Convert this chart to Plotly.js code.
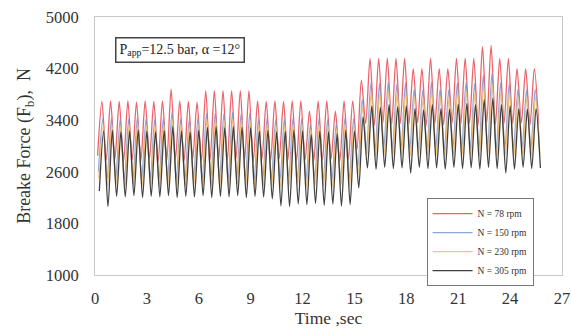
<!DOCTYPE html>
<html>
<head>
<meta charset="utf-8">
<script src="https://cdn.plot.ly/plotly-3.0.1.min.js"></script>
<style>html,body{margin:0;padding:0;background:#fff;}#chart{width:571px;height:330px;}</style>
</head>
<body>
<div id="chart"></div>
<script>
// Series labels
const seriesNames = ["N = 78 rpm", "N = 150 rpm", "N = 230 rpm", "N = 305 rpm"];
// Sampling: alternating trough / peak every 0.25 s, first sample time per series
const sampleStep = 0.25;
const startTimes = [0.15, 0.20, 0.22, 0.25];

const n78Troughs = [2850,2780,2800,2760,2790,2770,2800,2760,2780,2790,
  2770,2800,2760,2780,2790,2770,2800,2780,2760,2790,
  2770,2800,2780,2760,2790,2770,2780,2800,2760,2790,
  2950,3350,3320,3360,3330,3350,3340,3360,3320,3350,
  3330,3360,3340,3350,3320,3360,3330,3350,3340,3360,
  3330,3350];
const n78Peaks = [3690,3700,3690,3700,3680,3700,3690,3700,3880,3700,
  3690,3680,3860,3860,3860,3860,3860,3860,3700,3690,
  3700,3690,3700,3700,3540,3700,3700,3540,3700,3700,
  4020,4360,4360,4360,4360,4360,4200,4200,4360,4200,
  4200,4360,4360,4360,4540,4560,4360,4360,4200,4200,4200];

const n150Troughs = [2600,2480,2500,2470,2490,2480,2500,2470,2490,2480,
  2470,2500,2480,2490,2470,2480,2500,2490,2470,2480,
  2490,2470,2480,2500,2470,2490,2480,2470,2490,2480,
  2680,2960,2940,2970,2950,2960,2940,2970,2950,2960,
  2940,2970,2950,2960,2940,2970,2950,2960,2940,2970,
  2950,2960];
const n150Peaks = [3420,3430,3410,3420,3440,3420,3410,3430,3520,3420,
  3410,3430,3500,3510,3500,3520,3500,3510,3420,3430,
  3410,3420,3430,3420,3330,3420,3410,3340,3430,3420,
  3720,3980,3970,3990,3960,3980,3880,3870,3990,3880,
  3870,3980,3990,3970,4100,4120,3980,3970,3880,3870,3880];

const n230Troughs = [2500,2380,2400,2370,2390,2380,2400,2370,2390,2380,
  2370,2400,2380,2390,2370,2380,2400,2390,2370,2380,
  2390,2370,2380,2400,2370,2390,2380,2370,2390,2380,
  2580,2860,2840,2870,2850,2860,2840,2870,2850,2860,
  2840,2870,2850,2860,2840,2870,2850,2860,2840,2870,
  2850,2860];
const n230Peaks = [3330,3340,3320,3330,3350,3330,3320,3340,3420,3330,
  3320,3340,3410,3420,3400,3420,3410,3400,3330,3340,
  3320,3330,3340,3330,3260,3330,3320,3270,3340,3330,
  3600,3840,3820,3850,3830,3840,3760,3750,3850,3760,
  3750,3840,3850,3830,3950,3960,3840,3830,3760,3750,3760];

const n305Troughs = [2300,2060,2220,2210,2230,2200,2220,2210,2230,2200,
  2220,2210,2230,2200,2220,2210,2230,2200,2220,2210,
  2180,2070,2060,2100,2090,2110,2080,2100,2070,2090,
  2350,2660,2640,2670,2650,2660,2580,2670,2650,2660,
  2640,2670,2650,2660,2640,2670,2650,2580,2640,2670,
  2650,2660];
const n305Peaks = [3230,3240,3220,3230,3250,3230,3220,3240,3300,3230,
  3220,3240,3290,3300,3280,3300,3290,3280,3230,3240,
  3220,3230,3240,3230,3180,3230,3220,3190,3240,3230,
  3450,3620,3600,3640,3610,3620,3580,3560,3640,3580,
  3570,3650,3660,3640,3720,3740,3640,3620,3580,3570,3580];

const xTicks = [0,3,6,9,12,15,18,21,24,27];
const yTicks = [1000,1800,2600,3400,4200,5000];

const colors = ["rgba(232,70,80,0.85)", "rgba(120,150,210,0.85)", "rgba(245,190,110,0.9)", "rgba(45,45,45,0.9)"];
const troughSets = [n78Troughs, n150Troughs, n230Troughs, n305Troughs];
const peakSets = [n78Peaks, n150Peaks, n230Peaks, n305Peaks];

function interleave(tr, pk) {
  const out = [];
  for (let i = 0; i < tr.length; i++) {
    out.push(tr[i]);
    if (i < pk.length) out.push(pk[i]);
  }
  return out;
}

const traces = seriesNames.map((name, s) => {
  const y = interleave(troughSets[s], peakSets[s]);
  const x = y.map((_, i) => startTimes[s] + i * sampleStep);
  return {
    x, y, name, type: "scatter", mode: "lines",
    line: {color: colors[s], width: 1.3, shape: "spline", smoothing: 0.8}
  };
});

const fontFam = "Liberation Serif, Times New Roman, serif";
const layout = {
  width: 571, height: 330,
  margin: {l: 95, r: 9, t: 17, b: 55},
  paper_bgcolor: "#fff", plot_bgcolor: "#fff",
  showlegend: true,
  font: {family: fontFam, color: "#333", size: 16},
  xaxis: {
    range: [0, 27], tickvals: xTicks, ticks: "", showgrid: false, zeroline: false,
    showline: true, mirror: true, linecolor: "#c8c8c8", linewidth: 1,
    tickfont: {family: fontFam, size: 16.5, color: "#333"}, ticklabelstandoff: 8,
    title: {text: "Time ,sec", font: {family: fontFam, size: 17.5, color: "#333"}, standoff: 2}
  },
  yaxis: {
    range: [1000, 5000], tickvals: yTicks, ticks: "", showgrid: false, zeroline: false,
    showline: true, mirror: true, linecolor: "#c8c8c8", linewidth: 1,
    tickfont: {family: fontFam, size: 16.5, color: "#333"}, ticklabelstandoff: 12,
    title: {text: "Breake Force (F<sub>b</sub>),  N", font: {family: fontFam, size: 18, color: "#333"}, standoff: 10}
  },
  legend: {
    x: 0.71, y: 0.298, xanchor: "left", yanchor: "top",
    bgcolor: "#fff", bordercolor: "#777", borderwidth: 1,
    font: {family: fontFam, size: 9.5, color: "#333"},
    tracegroupgap: 0, itemwidth: 40
  },
  annotations: [{
    xref: "paper", yref: "paper", x: 0.043, y: 0.922, xanchor: "left", yanchor: "top",
    text: "P<sub>app</sub>=12.5 bar, α =12°", showarrow: false,
    font: {family: fontFam, size: 14, color: "#222"},
    bordercolor: "#444", borderwidth: 1.5, borderpad: 3, bgcolor: "#fff"
  }]
};

Plotly.newPlot("chart", traces, layout, {displayModeBar: false, staticPlot: true});
</script>
</body>
</html>
